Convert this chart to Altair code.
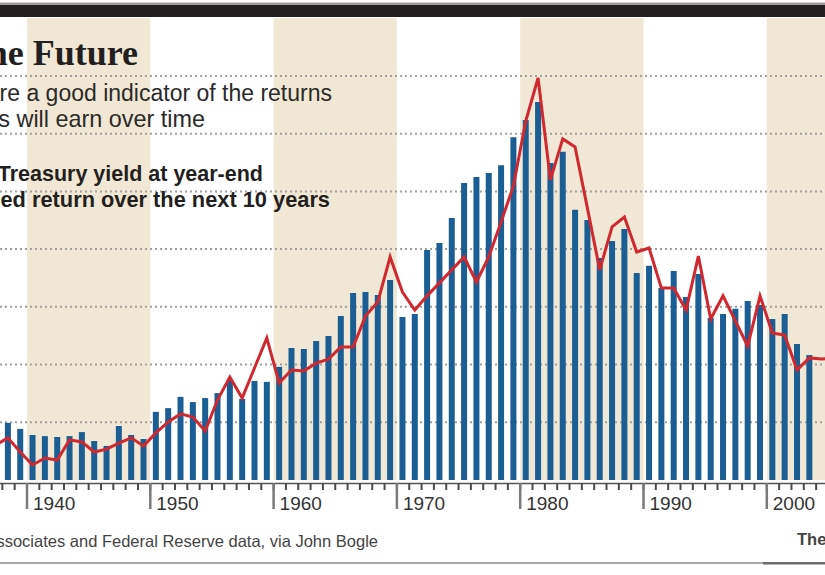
import altair as alt
import pandas as pd

# ---------------- data ----------------
bar_years = list(range(1938, 2004))
yield_values = [
    1.98, 1.77, 1.56, 1.52, 1.49, 1.52, 1.66, 1.35, 1.18, 1.87,   # 1938-1947
    1.56, 1.42, 2.36, 2.49, 2.88, 2.70, 2.84, 3.01, 3.47, 2.81,   # 1948-1957
    3.43, 3.40, 3.92, 4.57, 4.54, 4.82, 4.99, 5.68, 6.48, 6.51,   # 1958-1967
    6.41, 6.93, 5.65, 5.75, 7.97, 8.21, 9.08, 10.29, 10.50, 10.64,  # 1968-1977
    10.91, 11.88, 12.47, 13.10, 10.98, 11.37, 9.36, 9.01, 7.69, 8.28,  # 1978-1987
    8.70, 7.17, 7.42, 6.65, 7.24, 6.34, 7.14, 5.61, 5.75, 5.93,   # 1988-1997
    6.20, 6.06, 5.58, 5.75, 4.71, 4.33,                           # 1998-2003
]

line_years = list(range(1937, 2006))
return_values = [
    1.21, 1.46, 0.97, 0.52, 0.76, 0.69, 1.39, 1.32, 0.97, 1.07,   # 1937-1946
    1.28, 1.46, 1.18, 1.63, 2.01, 2.29, 2.18, 1.70, 2.77, 3.57,   # 1947-1956
    2.84, 3.88, 4.92, 3.36, 3.81, 3.78, 4.05, 4.19, 4.61, 4.61,   # 1957-1966
    5.68, 6.17, 7.73, 6.51, 5.89, 6.38, 6.83, 7.28, 7.73, 6.86,   # 1967-1976
    7.73, 8.94, 10.19, 12.44, 13.93, 10.40, 11.82, 11.54, 9.42, 7.28,  # 1977-1986
    8.77, 9.11, 7.90, 8.04, 6.65, 6.65, 5.89, 7.76, 5.58, 6.38,   # 1987-1996
    5.51, 4.64, 6.38, 5.09, 5.02, 3.81, 4.23, 4.19, 4.23,         # 1997-2005
]

decade_starts = [1940, 1960, 1980, 2000]
decades = [1940, 1950, 1960, 1970, 1980, 1990, 2000]
decade_labels = ["1940", "1950", "1960", "1970", "1980", "1990", "2000"]
tick_years = list(range(1938, 2005))
grid_values = [2, 4, 6, 8, 10, 12, 14]

# ---------------- styling ----------------
W, H = 825, 575
SANS = "Liberation Sans"
SERIF = "Liberation Serif"
BLUE = "#1a5e94"
RED = "#d0282e"
TAN = "#f0e8d5"
INK = "#231f20"

xs = alt.Scale(domain=[1937.81, 2004.72], nice=False, zero=False, padding=0)
ys = alt.Scale(domain=[-3.292, 16.632], nice=False, zero=False, padding=0)

bars_df = pd.DataFrame({"year": bar_years, "yield": yield_values})
line_df = pd.DataFrame({"year": line_years, "ret": return_values})
bands_df = pd.DataFrame({"start": decade_starts, "end": [d + 10 for d in decade_starts]})
grid_df = pd.DataFrame({"v": grid_values})
ticks_df = pd.DataFrame({"year": tick_years})
dec_df = pd.DataFrame({"year": decades, "label": decade_labels})
one = pd.DataFrame({"k": [0]})

bands = alt.Chart(bands_df).mark_rect(color=TAN, clip=True).encode(
    x=alt.X("start:Q", scale=xs, axis=None), x2="end:Q",
    y=alt.value(18), y2=alt.value(480))

grid = alt.Chart(grid_df).mark_rule(color="#a0a0a0", strokeWidth=2, strokeDash=[2, 3]).encode(
    y=alt.Y("v:Q", scale=ys, axis=None), x=alt.value(0), x2=alt.value(W))

bars = alt.Chart(bars_df).transform_calculate(xc="datum.year + 0.45").mark_bar(
    size=6, color=BLUE, clip=True).encode(
    x=alt.X("xc:Q", scale=xs, axis=None),
    y=alt.Y("yield:Q", scale=ys, axis=None),
    y2=alt.datum(0))

line = alt.Chart(line_df).transform_calculate(xc="datum.year + 0.45").mark_line(
    color=RED, strokeWidth=3, clip=True, strokeJoin="miter").encode(
    x=alt.X("xc:Q", scale=xs, axis=None),
    y=alt.Y("ret:Q", scale=ys, axis=None))

baseline = alt.Chart(one).mark_rule(color="#555555", strokeWidth=1.5).encode(
    x=alt.value(0), x2=alt.value(W), y=alt.value(483.5))

minor = alt.Chart(ticks_df).mark_rule(color="#4a4a4a", strokeWidth=2).encode(
    x=alt.X("year:Q", scale=xs, axis=None), y=alt.value(483), y2=alt.value(490))

major = alt.Chart(dec_df).mark_rule(color="#7a7a7a", strokeWidth=2.5).encode(
    x=alt.X("year:Q", scale=xs, axis=None), y=alt.value(483), y2=alt.value(509))

labels = alt.Chart(dec_df).mark_text(
    align="left", baseline="alphabetic", dx=6, font=SANS, fontSize=19, color="#333333").encode(
    x=alt.X("year:Q", scale=xs, axis=None), y=alt.value(510), text="label:N")


def txt(s, x, y, size, font=SANS, weight="normal", color=INK, align="right"):
    return alt.Chart(pd.DataFrame({"label": [s]})).mark_text(
        align=align, baseline="alphabetic", font=font, fontSize=size,
        fontWeight=weight, color=color).encode(
        x=alt.value(x), y=alt.value(y), text="label:N")


def box(x1, x2, y1, y2, color):
    return alt.Chart(one).mark_rect(color=color).encode(
        x=alt.value(x1), x2=alt.value(x2), y=alt.value(y1), y2=alt.value(y2))


texts = [
    box(0, W, 2.5, 5, "#9a9a9a"),
    box(0, W, 5, 17, INK),
    box(0, W, 562, 564, "#a8a8a8"),
    box(763, W, 562, 564.5, "#6a6a6a"),
    txt("the Future", 138, 65, 36, font=SERIF, weight="bold"),
    txt("Bond yields at the start of a decade are a good indicator of the returns", 332, 101, 23, color="#2a2a2a"),
    txt("that bond investors will earn over time", 205, 127, 23.4, color="#2a2a2a"),
    txt("Long-term Treasury yield at year-end", 263, 181, 21.5, weight="bold"),
    txt("Annualized return over the next 10 years", 330, 207, 21.8, weight="bold"),
    txt("Sources: Ibbotson Associates and Federal Reserve data, via John Bogle", 378, 547, 16.5, color="#444444"),
    txt("The Wall Street Journal", 797, 545, 16.5, weight="bold", color="#444444", align="left"),
]

chart = alt.layer(bands, grid, bars, line, baseline, minor, major, labels, *texts).properties(
    width=W, height=H, padding=0, background="white",
    autosize=alt.AutoSizeParams(type="none"),
).configure_view(stroke=None)

chart.save("out.html", embed_options={"renderer": "svg", "actions": False})
